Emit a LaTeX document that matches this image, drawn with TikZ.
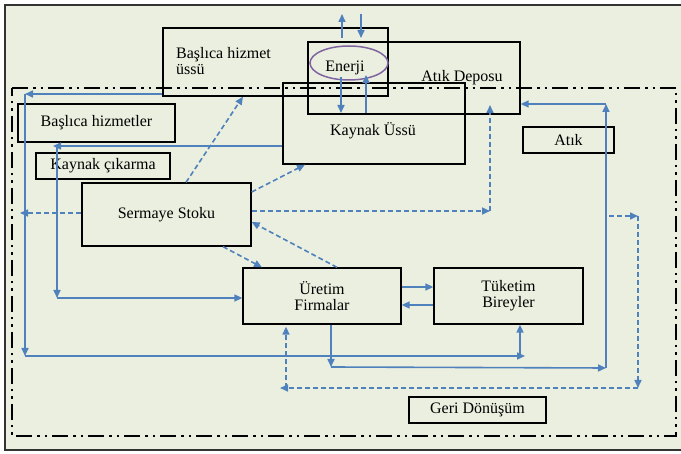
\documentclass[tikz,border=0pt]{standalone}
\usepackage{fontspec}
\setmainfont{Liberation Serif}
\usetikzlibrary{arrows.meta,shapes.geometric}
\definecolor{bgc}{RGB}{235,239,223}
\definecolor{lb}{RGB}{79,129,189}
\definecolor{pu}{RGB}{128,100,162}
\begin{document}
\begin{tikzpicture}[x=1pt,y=-1pt,
  box/.style={draw=black,line width=1.3pt,inner sep=0pt,align=center,font=\fontsize{16}{16}\selectfont},
  txt/.style={inner sep=0pt,align=center,font=\fontsize{16}{16}\selectfont},
  bl/.style={draw=lb,line width=1.6pt,-{Triangle[length=8pt,width=7pt]}},
  bld/.style={bl,dash pattern=on 5pt off 3pt},
  frame/.style={draw=black,line width=2.2pt,dash pattern=on 16pt off 5pt on 2.5pt off 5pt on 2.5pt off 5pt}]
\useasboundingbox (0,0) rectangle (681,454);
\fill[white] (0,0) rectangle (681,454);
\fill[bgc] (5,5) rectangle (681,450);
\draw[line width=1.5pt,draw=black!80] (681,5) -- (5,5) -- (5,450) -- (681,450);
% dash-dot frame
\draw[frame] (12,88) -- (676,88) -- (676,436) -- (12,436) -- cycle;
% boxes
\node[box,minimum width=225pt,minimum height=68pt] (hu) at (275.5,62) {};
\node[txt,anchor=north west,align=left] (hut) at (176,47) {Başlıca hizmet\\üssü};
\node[box,minimum width=212pt,minimum height=72pt] (ad) at (414,78) {};
\node[txt] (adt) at (462,78) {Atık Deposu};
\node[box,minimum width=182pt,minimum height=81pt] (ku) at (374,123.5) {};
\node[txt] (kut) at (373,131) {Kaynak Üssü};
\node[draw=pu,line width=1.5pt,ellipse,minimum width=78pt,minimum height=34pt,inner sep=0pt] (en) at (349,63) {};
\node[txt] (ent) at (345,68) {Enerji};
\node[box,minimum width=157pt,minimum height=38pt] (bh) at (96.5,123) {Başlıca hizmetler};
\node[box,minimum width=134pt,minimum height=26pt] (kc) at (103,166) {Kaynak çıkarma};
\node[box,minimum width=169pt,minimum height=63pt] (ss) at (166.5,214.5) {Sermaye Stoku};
\node[box,minimum width=158pt,minimum height=56pt] (uf) at (322,296) {Üretim\\Firmalar};
\node[box,minimum width=149pt,minimum height=56pt] (tb) at (508.5,296) {Tüketim\\Bireyler};
\node[box,minimum width=91pt,minimum height=26pt] (at) at (568.5,140) {Atık};
\node[box,minimum width=137pt,minimum height=26pt] (gd) at (477.5,410) {Geri Dönüşüm};
% energy arrows
\coordinate (t1) at (342,38); \coordinate (t2) at (342,14);
\coordinate (t3) at (361,14); \coordinate (t4) at (361,38);
\coordinate (t5) at (341,77); \coordinate (t6) at (341,113);
\coordinate (t7) at (366,113); \coordinate (t8) at (366,75);
\draw[bl] (t1) -- (t2);
\draw[bl] (t3) -- (t4);
\draw[bl] (t5) -- (t6);
\draw[bl] (t7) -- (t8);
% A: hizmet üssü loop
\coordinate (a1) at (25,94); \coordinate (a2) at (25,356);
\coordinate (a3) at (525,356); \coordinate (a4) at (520,356);
\draw[bl] (hu.west |- a1) -- (a1);
\draw[bl] (a1) -- (a2);
\draw[bl] (a2) -- (a3);
\draw[bl] (a4) -- (a4 |- tb.south);
% C: kaynak üssü to üretim
\coordinate (b1) at (53,146); \coordinate (b2) at (57,146); \coordinate (b3) at (57,298);
\draw[bl] (ku.west |- b1) -- (b1);
\draw[bl] (b2) -- (b3);
\draw[bl] (b3) -- (uf.west |- b3);
% D
\coordinate (d1) at (20,213);
\draw[bld] (ss.west |- d1) -- (d1);
% E, F
\draw[bld] (ss.north -| 186,0) -- (hu.south -| 243,0);
\draw[bld] (ss.east |- 0,192) -- (ku.south -| 305,0);
% G
\coordinate (g1) at (490,211); \coordinate (g2) at (490,105);
\draw[bld] (ss.east |- g1) -- (g1);
\draw[bld] (g1) -- (g2);
% H, I
\draw[bld] (ss.south -| 223,0) -- (uf.north -| 262,0);
\draw[bld] (uf.north -| 337,0) -- (ss.east |- 0,222);
% J
\draw[bl] (uf.east |- 0,287) -- (tb.west |- 0,287);
\draw[bl] (tb.west |- 0,305) -- (uf.east |- 0,305);
% K
\coordinate (k1) at (331,367); \coordinate (k2) at (606,368); \coordinate (k3) at (606,104);
\draw[bl] (uf.south -| k1) -- (k1);
\draw[bl] (k1) -- (k2);
\draw[bl] (k2) -- (k3);
\draw[bl] (k3) -- (ad.east |- k3);
% L
\coordinate (l0) at (609,216); \coordinate (l1) at (638,216);
\coordinate (l2) at (638,388); \coordinate (l3) at (280,388); \coordinate (l4) at (286,388);
\draw[bld] (l0) -- (l1);
\draw[bld] (l1) -- (l2);
\draw[bld] (l2) -- (l3);
\draw[bld,shorten >=2pt] (l4) -- (uf.south -| l4);
\end{tikzpicture}
\end{document}
